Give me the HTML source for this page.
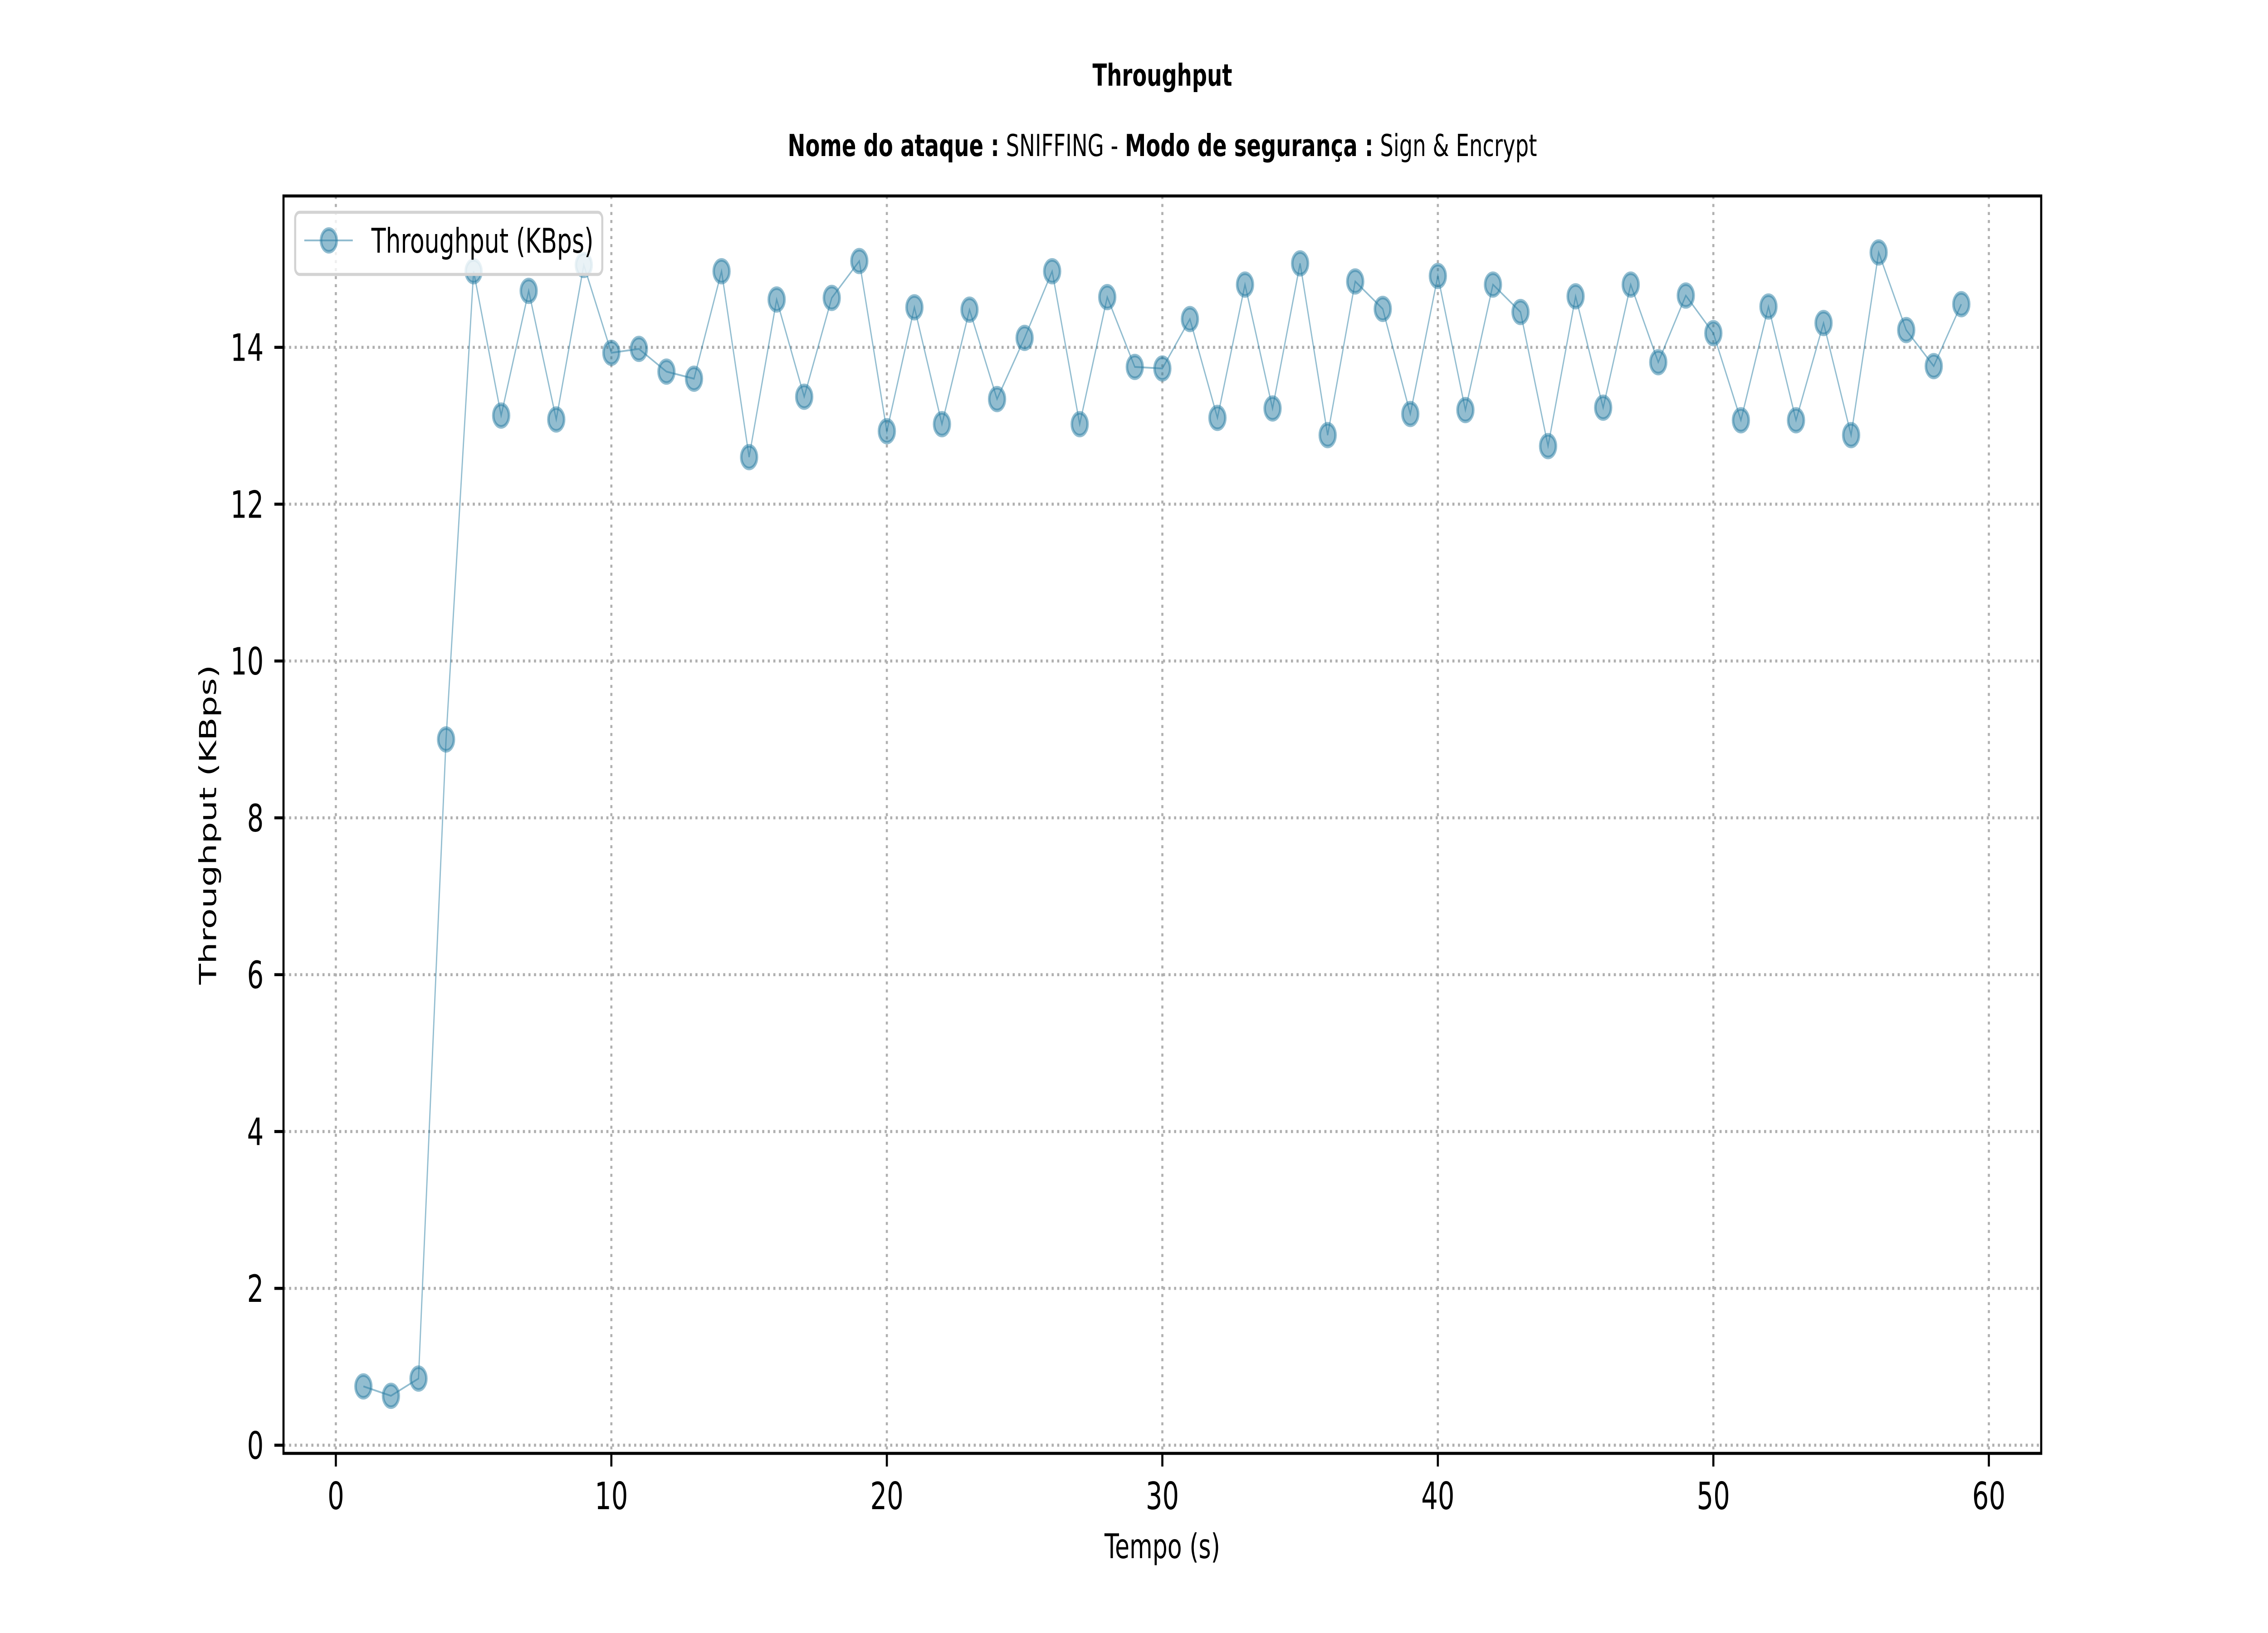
<!DOCTYPE html>
<html><head><meta charset="utf-8"><style>
html,body{margin:0;padding:0;background:#fff;width:100%;height:100%;overflow:hidden;}
svg{display:block;width:100vw;height:100vh;font-family:"DejaVu Sans","Liberation Sans",sans-serif;}
</style></head><body>
<svg id="chart" viewBox="0 0 7200 3600" preserveAspectRatio="none" xmlns="http://www.w3.org/2000/svg">
<rect width="7200" height="3600" fill="#fff"/>
<text x="3690" y="189" text-anchor="middle" font-size="67" font-weight="bold">Throughput</text>
<text x="3690" y="344" text-anchor="middle" font-size="67"><tspan font-weight="bold">Nome do ataque :</tspan> SNIFFING - <tspan font-weight="bold">Modo de segurança :</tspan> Sign &amp; Encrypt</text>
<g id="grid"></g>
<g id="ticks"></g>
<g id="series"></g>
<rect x="900" y="432" width="5580" height="2772" fill="none" stroke="#000" stroke-width="6.67"/>
<text x="3690" y="3435" text-anchor="middle" font-size="75">Tempo (s)</text>
<text transform="translate(686,1818) rotate(-90)" text-anchor="middle" font-size="75">Throughput (KBps)</text>
<g>
<rect x="937" y="468" width="975" height="137" rx="14" fill="#fff" fill-opacity="0.8" stroke="#d3d3d3" stroke-width="6.67"/>
<line x1="966" y1="530" x2="1120" y2="530" stroke="#257ba1" stroke-opacity="0.5" stroke-width="4"/>
<circle cx="1044" cy="530" r="25" fill="#257ba1" fill-opacity="0.5" stroke="#257ba1" stroke-opacity="0.5" stroke-width="8"/>
<text x="1179" y="557" font-size="75">Throughput (KBps)</text>
</g>
</svg>
<script>
const times = [1,2,3,4,5,6,7,8,9,10,11,12,13,14,15,16,17,18,19,20,21,22,23,24,25,26,27,28,29,30,31,32,33,34,35,36,37,38,39,40,41,42,43,44,45,46,47,48,49,50,51,52,53,54,55,56,57,58,59];
const throughput = [0.75,0.63,0.85,9.0,14.97,13.13,14.72,13.08,15.05,13.93,13.98,13.69,13.60,14.97,12.60,14.61,13.37,14.63,15.10,12.93,14.51,13.02,14.48,13.34,14.12,14.97,13.02,14.64,13.75,13.73,14.36,13.10,14.80,13.22,15.07,12.88,14.84,14.49,13.15,14.91,13.20,14.80,14.45,12.74,14.65,13.23,14.80,13.81,14.66,14.18,13.07,14.52,13.07,14.31,12.88,15.21,14.22,13.76,14.55];
const xTicks = [0,10,20,30,40,50,60];
const yTicks = [0,2,4,6,8,10,12,14];

const NS = "http://www.w3.org/2000/svg";
const L=900,R=6480,T=432,B=3204;
const xlo=-1.9,xhi=61.9,ylo=-0.104,yhi=15.93;
function xs(v){return L+(v-xlo)/(xhi-xlo)*(R-L);}
function ys(v){return B-(v-ylo)/(yhi-ylo)*(B-T);}
function mk(tag,attrs,parent){const e=document.createElementNS(NS,tag);for(const k in attrs)e.setAttribute(k,attrs[k]);parent.appendChild(e);return e;}
const grid=document.getElementById('grid'),ticks=document.getElementById('ticks'),series=document.getElementById('series');
xTicks.forEach(t=>{
  const x=xs(t);
  const g=mk('line',{x1:x,y1:T,x2:x,y2:B,stroke:'#b0b0b0','stroke-width':6.67,'stroke-dasharray':'6.67 11'},grid);
  
  
  mk('line',{x1:x,y1:B,x2:x,y2:B+29,stroke:'#000','stroke-width':6.67},ticks);
  const tx=mk('text',{x:x,y:3327,'text-anchor':'middle','font-size':83},ticks);
  
  
  tx.textContent=t;
});
yTicks.forEach(t=>{
  const y=ys(t);
  const g=mk('line',{x1:L,y1:y,x2:R,y2:y,stroke:'#b0b0b0','stroke-width':6.67,'stroke-dasharray':'6.67 11'},grid);
  
  
  mk('line',{x1:L-29,y1:y,x2:L,y2:y,stroke:'#000','stroke-width':6.67},ticks);
  const tx=mk('text',{x:837,y:y+30,'text-anchor':'end','font-size':83},ticks);
  
  
  tx.textContent=t;
});
const pts=times.map((t,i)=>xs(t)+','+ys(throughput[i])).join(' ');
const pl=mk('polyline',{points:pts,fill:'none',stroke:'#257ba1','stroke-opacity':0.5,'stroke-width':4},series);


times.forEach((t,i)=>{
  const c=mk('circle',{cx:xs(t),cy:ys(throughput[i]),r:25,fill:'#257ba1','fill-opacity':0.5,stroke:'#257ba1','stroke-opacity':0.5,'stroke-width':8},series);
  
  
});
</script>
</body></html>
